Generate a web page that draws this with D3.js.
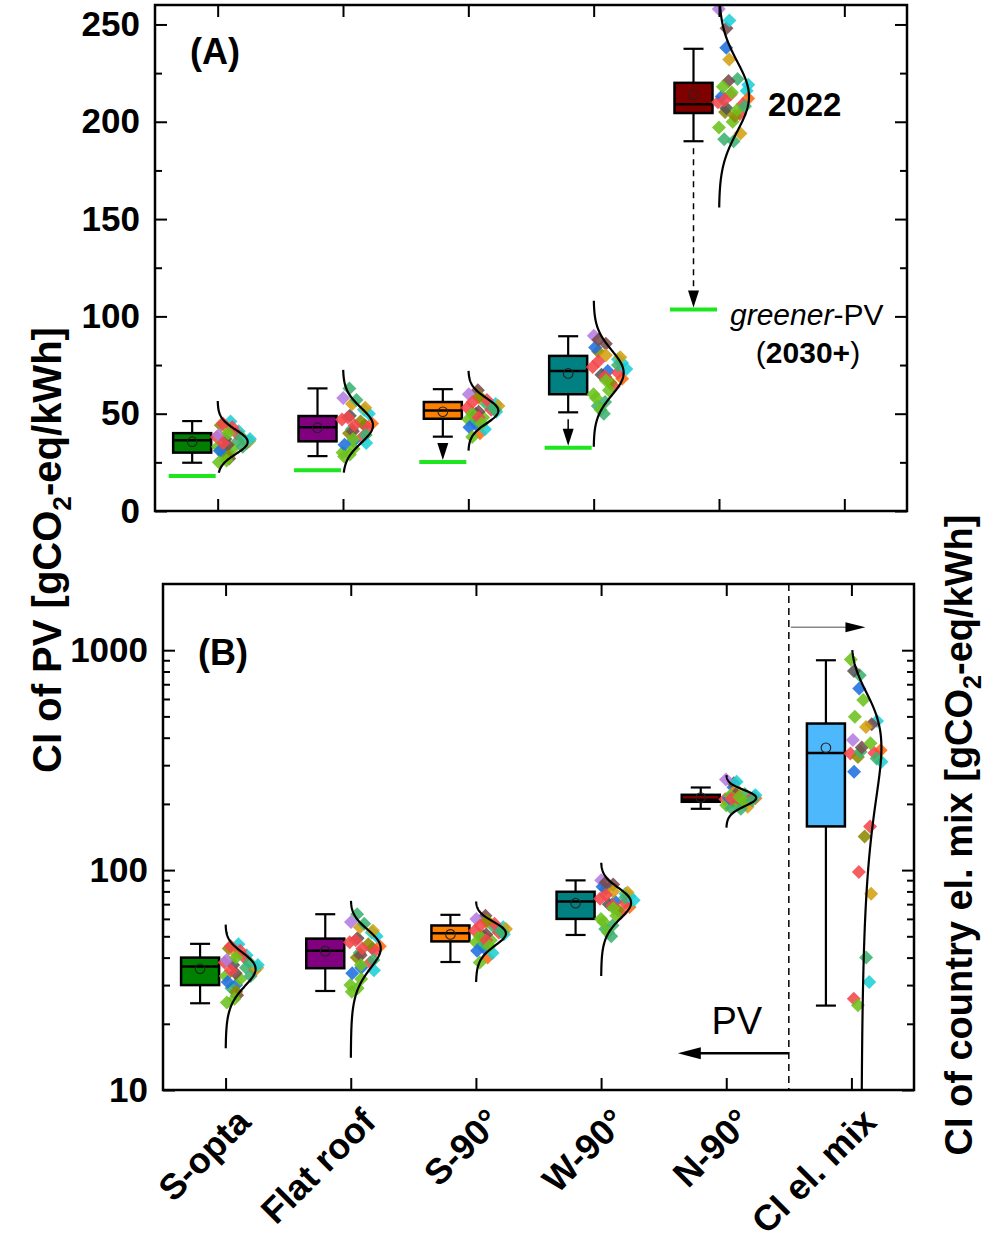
<!DOCTYPE html>
<html>
<head>
<meta charset="utf-8">
<script src="https://cdn.jsdelivr.net/npm/d3@7"></script>
<style>
  body { margin: 0; background: #fff; }
  svg { display: block; }
  text { font-family: "Liberation Sans", Arial, sans-serif; }
</style>
</head>
<body>
<svg id="chart" width="997" height="1241"></svg>
<script>
// ---- data ----------------------------------------------------------------
const categories = ["S-opta", "Flat roof", "S-90°", "W-90°", "N-90°", "CI el. mix"];
const boxFill = ["#008000", "#800080", "#ff8000", "#008080", "#800000", "#4db8fb"];

// box statistics (gCO2-eq/kWh)
const whiskerLow  = [24.8, 28.2, 38.2, 50.7, 190, 24.2];
const quart1      = [30.0, 35.8, 47.4, 60.0, 204.5, 158];
const medians     = [36.4, 43.0, 51.6, 72.0, 209, 341];
const quart3      = [40.0, 48.8, 56.0, 79.7, 220, 464];
const whiskerHigh = [46.2, 63.0, 62.6, 89.8, 237.5, 900];
const means       = [35.6, 42.8, 51.0, 70.7, 213.9, 360];

// fitted normal curves
const curveMean = [35.5, 44, 51.5, 71, 213, 360];
const curveSd   = [6.2, 9, 6.5, 11.5, 18, 240];
const curveLo   = [15.5, 14, 31, 33, 156, 10];
const curveHi   = [56.5, 72.5, 72, 108, 270, 1000];
const curveFloorA = 19.7;

// greener-PV (2030+) targets for the five PV orientations
const greenerPV = [18, 21, 25.2, 32.5, 103.5];

// per-country values, one list per category
const sOpta    = [38, 36, 44, 41, 30, 33, 27, 37, 35, 42, 39, 40, 29, 46, 32, 31, 43, 34, 36, 28, 25, 38, 45, 37, 26, 35, 33, 40];
const flatRoof = [47, 63, 40, 52, 36, 30, 44, 49, 45, 55, 58, 38, 42, 50, 29, 34, 43, 41, 53, 46, 28, 39, 44, 35, 32, 48, 57, 37];
const s90      = [53, 55, 49, 51, 44, 47, 62, 50, 40, 58, 60, 52, 46, 55, 48, 43, 57, 51, 54, 59, 50, 53, 48, 42, 45, 56, 52, 38];
const w90      = [74, 56, 82, 78, 72, 60, 86, 70, 68, 80, 90, 64, 54, 76, 52, 84, 71, 88, 79, 66, 58, 75, 69, 73, 62, 77, 50, 67];
const n90      = [210, 222, 205, 216, 238, 197, 248, 207, 212, 232, 258, 204, 191, 219, 200, 213, 209, 221, 194, 203, 218, 190, 214, 252, 206, 211, 208, 215];
const ciMix    = [339, 769, 327, 477, 670, 908, 461, 805, 351, 448, 390, 341, 345, 311, 593, 280, 158, 361, 78, 142, 498, 322, 98, 31, 377, 26, 40, 24.3];
const countryValues = [sOpta, flatRoof, s90, w90, n90, ciMix];

const countryColors = ["#f4474b", "#3cb371", "#8c8a00", "#1ccfd6", "#1f6fe0", "#6cc21c", "#7a4a4a",
  "#555555", "#ff6a10", "#d4a010", "#b47ce0", "#f4474b", "#3cb371", "#1ccfd6", "#6cc21c", "#1f6fe0",
  "#f4474b", "#7a4a4a", "#d4a010", "#8c8a00", "#6cc21c", "#3cb371", "#f4474b", "#1ccfd6", "#6cc21c",
  "#f4474b", "#3cb371", "#6cc21c"];

const yTicksA = [0, 50, 100, 150, 200, 250];
const yMinorA = [25, 75, 125, 175, 225];
const yTicksB = [10, 100, 1000];
const yMinorB = [20, 30, 40, 50, 60, 70, 80, 90, 200, 300, 400, 500, 600, 700, 800, 900];

// ---- layout ---------------------------------------------------------------
const svg = d3.select("#chart");
const A = { left: 155, right: 907, top: 5, bottom: 511 };
const B = { left: 163, right: 914, top: 584, bottom: 1090 };

const xA = d3.scalePoint().domain(categories).range([A.left, A.right]).padding(0.5);
const xB = d3.scalePoint().domain(categories).range([B.left, B.right]).padding(0.5);
const yA = d3.scaleLinear().domain([0, 260]).range([A.bottom, A.top]);
const yB = d3.scaleLog().domain([10, 2000]).range([B.bottom, B.top]);

const boxShift = -25.5, boxW = 38, capW = 20, curveW = 30;
const jitter = i => ((i * 17) % 28) / 27;
const diamond = r => `M0,${-r}L${r},0L0,${r}L${-r},0Z`;

function drawPanel(P, x, y, nCat, id, linear) {
  svg.append("clipPath").attr("id", id)
    .append("rect").attr("x", P.left).attr("y", P.top)
    .attr("width", P.right - P.left).attr("height", P.bottom - P.top);
  const g = svg.append("g").attr("clip-path", `url(#${id})`);

  categories.slice(0, nCat).forEach((c, k) => {
    const cx = x(c) + boxShift;
    const gb = g.append("g");
    // whiskers
    gb.append("line").attr("x1", cx).attr("x2", cx)
      .attr("y1", y(whiskerLow[k])).attr("y2", y(whiskerHigh[k]))
      .attr("stroke", "#000").attr("stroke-width", 2.2);
    [whiskerLow[k], whiskerHigh[k]].forEach(v => {
      gb.append("line").attr("x1", cx - capW / 2).attr("x2", cx + capW / 2)
        .attr("y1", y(v)).attr("y2", y(v)).attr("stroke", "#000").attr("stroke-width", 2.2);
    });
    // box
    gb.append("rect").attr("x", cx - boxW / 2).attr("width", boxW)
      .attr("y", y(quart3[k])).attr("height", y(quart1[k]) - y(quart3[k]))
      .attr("fill", boxFill[k]).attr("stroke", "#000").attr("stroke-width", 2.5);
    gb.append("line").attr("x1", cx - boxW / 2).attr("x2", cx + boxW / 2)
      .attr("y1", y(medians[k])).attr("y2", y(medians[k]))
      .attr("stroke", "#000").attr("stroke-width", 2.5);
    gb.append("circle").attr("cx", cx).attr("cy", y(means[k])).attr("r", 4.8)
      .attr("fill", "none").attr("stroke", "#222").attr("stroke-width", 1.1);

    // country points
    const tick = x(c);
    const pdf = v => Math.exp(-0.5 * Math.pow((v - curveMean[k]) / curveSd[k], 2));
    countryValues[k].forEach((v, i) => {
      const off = -1 + jitter(i) * (9 + 25 * pdf(v));
      g.append("path").attr("d", diamond(7))
        .attr("transform", `translate(${tick + off},${y(v)})`)
        .attr("fill", countryColors[i]).attr("fill-opacity", 0.88);
    });

    // normal curve
    const lo = linear ? Math.max(curveLo[k], curveFloorA) : curveLo[k];
    const hi = curveHi[k];
    const pts = d3.range(0, 161).map(j => {
      const t = j / 160;
      const v = linear ? lo + (hi - lo) * t : Math.exp(Math.log(lo) + (Math.log(hi) - Math.log(lo)) * t);
      return [tick + curveW * pdf(v), y(v)];
    });
    g.append("path").attr("d", d3.line()(pts))
      .attr("fill", "none").attr("stroke", "#000").attr("stroke-width", 2.2);
  });

  // frame
  svg.append("rect").attr("x", P.left).attr("y", P.top)
    .attr("width", P.right - P.left).attr("height", P.bottom - P.top)
    .attr("fill", "none").attr("stroke", "#000").attr("stroke-width", 2.5);
}

function styleAxis(sel) {
  sel.select(".domain").remove();
  sel.selectAll(".tick line").attr("stroke", "#000").attr("stroke-width", 2);
  sel.selectAll(".tick text").attr("font-size", 35).attr("font-weight", "bold")
    .attr("fill", "#000").attr("font-family", '"Liberation Sans", Arial, sans-serif');
}

function drawAxes(P, x, y, major, minor, fmt) {
  const left = svg.append("g").attr("transform", `translate(${P.left},0)`)
    .call(d3.axisLeft(y).tickValues(major).tickSize(-12).tickPadding(15).tickFormat(fmt));
  styleAxis(left);
  styleAxis(svg.append("g").attr("transform", `translate(${P.left},0)`)
    .call(d3.axisLeft(y).tickValues(minor).tickSize(-7).tickFormat("")));
  styleAxis(svg.append("g").attr("transform", `translate(${P.right},0)`)
    .call(d3.axisRight(y).tickValues(major).tickSize(-12).tickFormat("")));
  styleAxis(svg.append("g").attr("transform", `translate(${P.right},0)`)
    .call(d3.axisRight(y).tickValues(minor).tickSize(-7).tickFormat("")));
  styleAxis(svg.append("g").attr("transform", `translate(0,${P.bottom})`)
    .call(d3.axisBottom(x).tickSize(-12).tickFormat("")));
  styleAxis(svg.append("g").attr("transform", `translate(0,${P.top})`)
    .call(d3.axisTop(x).tickSize(-12).tickFormat("")));
}

// ---- panel A (linear) -----------------------------------------------------
drawPanel(A, xA, yA, 5, "clipA", true);
drawAxes(A, xA, yA, yTicksA, yMinorA, d3.format("d"));

// greener-PV markers and arrows
greenerPV.forEach((v, k) => {
  const cx = xA(categories[k]) + boxShift;
  svg.append("line").attr("x1", cx - 23.5).attr("x2", cx + 23.5)
    .attr("y1", yA(v)).attr("y2", yA(v)).attr("stroke", "#1ee61e").attr("stroke-width", 4);
});
function arrowDown(cx, y1, y2, dashed) {
  const head = 17;
  if (y2 - head > y1) {
    svg.append("line").attr("x1", cx).attr("x2", cx).attr("y1", y1).attr("y2", y2 - head + 1)
      .attr("stroke", "#000").attr("stroke-width", 1.5)
      .attr("stroke-dasharray", dashed ? "6,5" : null);
  }
  svg.append("path").attr("d", `M${cx - 5.5},${y2 - head}L${cx + 5.5},${y2 - head}L${cx},${y2}Z`)
    .attr("fill", "#000");
}
[2, 3, 4].forEach(k => {
  const cx = xA(categories[k]) + boxShift;
  arrowDown(cx, yA(whiskerLow[k]) + 7, yA(greenerPV[k]) - 2, k === 4);
});

svg.append("text").attr("x", 190).attr("y", 64).attr("font-size", 36).attr("font-weight", "bold").text("(A)");
svg.append("text").attr("x", 768).attr("y", 116).attr("font-size", 33).attr("font-weight", "bold").text("2022");
const gp = svg.append("text").attr("x", 730).attr("y", 325).attr("font-size", 30);
gp.append("tspan").attr("font-style", "italic").text("greener");
gp.append("tspan").text("-PV");
const yr = svg.append("text").attr("x", 808).attr("y", 363).attr("font-size", 30).attr("text-anchor", "middle");
yr.append("tspan").text("(");
yr.append("tspan").attr("font-weight", "bold").text("2030+");
yr.append("tspan").text(")");

// ---- panel B (log) --------------------------------------------------------
drawPanel(B, xB, yB, 6, "clipB", false);
drawAxes(B, xB, yB, yTicksB, yMinorB, d3.format("d"));

// separator between PV and grid-mix columns
const sepX = (xB(categories[4]) + xB(categories[5])) / 2;
svg.append("line").attr("x1", sepX).attr("x2", sepX).attr("y1", B.top).attr("y2", B.bottom)
  .attr("stroke", "#000").attr("stroke-width", 1.5).attr("stroke-dasharray", "7,5");

// right-pointing arrow towards the grid-mix axis
const ya1 = yB(1270);
svg.append("line").attr("x1", sepX + 2).attr("x2", xB(categories[5]) - 4).attr("y1", ya1).attr("y2", ya1)
  .attr("stroke", "#888").attr("stroke-width", 1.5);
svg.append("path")
  .attr("d", `M${xB(categories[5]) - 6},${ya1 - 5}L${xB(categories[5]) + 14},${ya1}L${xB(categories[5]) - 6},${ya1 + 5}Z`)
  .attr("fill", "#000");

// left-pointing arrow labelled PV
const ya2 = yB(14.7);
svg.append("line").attr("x1", sepX).attr("x2", sepX - 90).attr("y1", ya2).attr("y2", ya2)
  .attr("stroke", "#000").attr("stroke-width", 2.5);
svg.append("path").attr("d", `M${sepX - 111},${ya2}L${sepX - 88},${ya2 - 6}L${sepX - 88},${ya2 + 6}Z`).attr("fill", "#000");
svg.append("text").attr("x", sepX - 52).attr("y", yB(18)).attr("text-anchor", "middle")
  .attr("font-size", 38).text("PV");

svg.append("text").attr("x", 198).attr("y", 665).attr("font-size", 36).attr("font-weight", "bold").text("(B)");

// category labels
categories.forEach(c => {
  svg.append("text")
    .attr("transform", `translate(${xB(c) + 27},${1124}) rotate(-45)`)
    .attr("text-anchor", "end").attr("font-size", 36).attr("font-weight", "bold").text(c);
});

// axis titles
function sub2Title(x, yc, before, size) {
  const t = svg.append("text").attr("transform", `translate(${x},${yc}) rotate(-90)`)
    .attr("text-anchor", "middle").attr("font-size", size).attr("font-weight", "bold");
  t.append("tspan").text(before + "[gCO");
  t.append("tspan").attr("font-size", size * 0.66).attr("dy", size * 0.24).text("2");
  t.append("tspan").attr("dy", -size * 0.24).text("-eq/kWh]");
}
sub2Title(61, 550, "CI of PV ", 40);
sub2Title(972, 835, "CI of country el. mix ", 38);
</script>
</body>
</html>
